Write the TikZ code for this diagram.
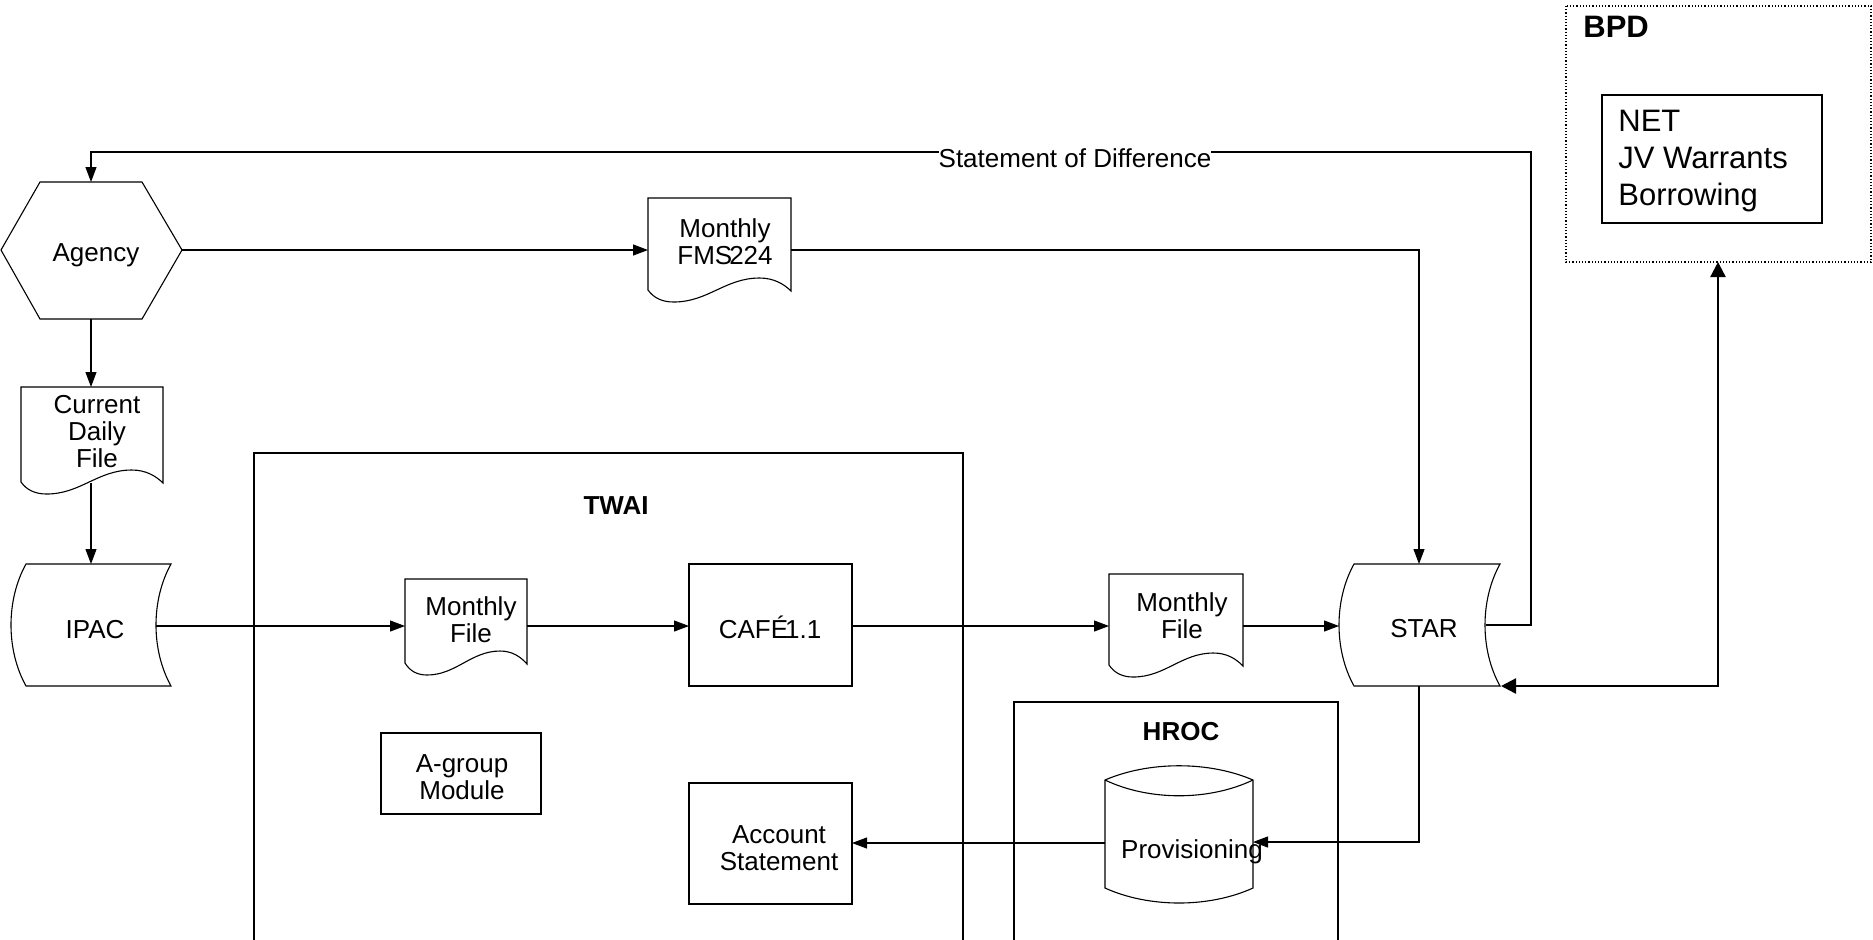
\documentclass[tikz,border=0pt]{standalone}
\usepackage{fontspec}
\setmainfont{Liberation Sans}
\usetikzlibrary{arrows.meta}
\newcommand{\docoutline}[4]{%
  \pgfmathsetmacro{\dW}{#2-#1}%
  \draw[outline] (#1,#4) -- (#1,#3) -- (#2,#3) -- (#2,#4+1)
    .. controls ({#1+0.95*\dW},{#4-6}) and ({#1+0.88*\dW},{#4-12}) .. ({#1+0.78*\dW},{#4-12})
    .. controls ({#1+0.54*\dW},{#4-12}) and ({#1+0.42*\dW},{#4+12}) .. ({#1+0.18*\dW},{#4+12})
    .. controls ({#1+0.1*\dW},{#4+12}) and ({#1+0.04*\dW},{#4+8}) .. (#1,#4) -- cycle;}
\begin{document}
\begin{tikzpicture}[x=0.5pt,y=-0.5pt,
  lbl/.style={font=\fontsize{13}{13.6}\selectfont, inner sep=0pt, align=center},
  ttl/.style={font=\fontsize{13}{13.6}\selectfont\bfseries, inner sep=0pt},
  big/.style={font=\fontsize{15.5}{18.5}\selectfont, inner sep=0pt},
  outline/.style={draw=black, line width=0.55pt},
  thickbox/.style={draw=black, line width=1pt},
  conn/.style={draw=black, line width=0.55pt},
  arr/.style={conn, -{Triangle[length=7.5pt,width=5.5pt]}},
  bigarr/.style={draw=black, line width=1.2pt,
    {Triangle[length=7.5pt,width=7.5pt]}-{Triangle[length=7.5pt,width=7.5pt]}},
]
\useasboundingbox (0,0) rectangle (1873,939);

% ---------- containers ----------
\draw[outline] (254,945) -- (254,453) -- (963,453) -- (963,945);
\node[ttl, anchor=base] (twai) at (616,514) {TWAI};
\draw[outline] (1014,945) -- (1014,702) -- (1338,702) -- (1338,945);
\node[ttl, anchor=base] (hroc) at (1181,740) {HROC};

% BPD
\draw[black, line width=0.6pt, dash pattern=on 0.6pt off 1pt] (1566,6) rectangle (1871,262);
\node[big, font=\fontsize{15.5}{18.5}\selectfont\bfseries, anchor=base west] (bpdlbl) at (1583,37) {BPD};
\draw[thickbox] (1602,95) rectangle (1822,223);
\node[big, align=left, anchor=west] (bpdlist) at (1618,161) {NET\\JV Warrants\\Borrowing};
\coordinate (bpdS) at (1718,262);

% ---------- Agency ----------
\draw[outline] (1,250) -- (40,182) -- (142,182) -- (182,250) -- (142,319) -- (40,319) -- cycle;
\node[lbl, anchor=base] (agency) at (96,261) {Agency};
\coordinate (agT) at (91,182);
\coordinate (agB) at (91,319);
\coordinate (agE) at (182,250);

% ---------- Monthly FMS224 ----------
\docoutline{648}{791}{198}{290}
\node[lbl] (fms) at (725,242) {Monthly\\FMS\kern-1.5pt 224};
\coordinate (fmsW) at (648,250);
\coordinate (fmsE) at (791,250);

% ---------- Current Daily File ----------
\docoutline{21}{163}{387}{482}
\node[lbl] (cdf) at (97,431.5) {Current\\Daily\\File};
\coordinate (cdfT) at (91,387);
\coordinate (cdfB) at (91,483);

% ---------- IPAC ----------
\draw[outline] (26,564) -- (171,564) .. controls (151,600) and (151,650) .. (171,686)
  -- (26,686) .. controls (6,650) and (6,600) .. (26,564) -- cycle;
\node[lbl, anchor=base] (ipac) at (95,638) {IPAC};
\coordinate (ipT) at (91,564);
\coordinate (ipE) at (156,626);

% ---------- Monthly File (TWAI) ----------
\docoutline{405}{527}{579}{663}
\node[lbl] (mf1) at (471,620) {Monthly\\File};
\coordinate (mf1W) at (405,626);
\coordinate (mf1E) at (527,626);

% ---------- CAFE 1.1 ----------
\draw[outline] (689,564) rectangle (852,686);
\node[lbl, anchor=base] (cafe) at (770,638) {CAFÉ\kern-1.5pt 1.1};
\coordinate (cafeW) at (689,626);
\coordinate (cafeE) at (852,626);

% ---------- Monthly File 2 ----------
\docoutline{1109}{1243}{574}{665}
\node[lbl] (mf2) at (1182,616) {Monthly\\File};
\coordinate (mf2W) at (1109,626);
\coordinate (mf2E) at (1243,626);

% ---------- STAR ----------
\draw[outline] (1354,564) -- (1500,564) .. controls (1480,600) and (1480,650) .. (1500,686)
  -- (1354,686) .. controls (1334,650) and (1334,600) .. (1354,564) -- cycle;
\node[lbl, anchor=base] (star) at (1424,637) {STAR};
\coordinate (stT) at (1419,564);
\coordinate (stL) at (1339,626);
\coordinate (stR) at (1486,625);
\coordinate (stB) at (1419,686);
\coordinate (stBR) at (1501,686);
\coordinate (fbTop) at (1531,152);

% ---------- A-group Module ----------
\draw[thickbox] (381,733) rectangle (541,814);
\node[lbl] (agroup) at (462,777) {A-group\\Module};

% ---------- Account Statement ----------
\draw[outline] (689,783) rectangle (852,904);
\node[lbl] (acct) at (779,848) {Account\\Statement};
\coordinate (acctE) at (852,843);

% ---------- Provisioning ----------
\draw[outline] (1105,780) -- (1105,888) .. controls (1149,908) and (1209,908) .. (1253,888)
  -- (1253,780) .. controls (1209,761) and (1149,761) .. (1105,780) -- cycle;
\draw[outline] (1105,780) .. controls (1149,801) and (1209,801) .. (1253,780);
\node[lbl, anchor=base] (prov) at (1192,858) {Provisioning};
\coordinate (provE) at (1253,842);
\coordinate (provW) at (1105,843);

% ---------- connectors ----------
\draw[arr] (stR) -| (fbTop) -| (agT);
\node[lbl, anchor=base, fill=white] (sod) at (1075,167) {Statement of Difference};
\draw[arr] (agE) -- (fmsW);
\draw[arr] (fmsE) -| (stT);
\draw[arr] (agB) -- (cdfT);
\draw[arr] (cdfB) -- (ipT);
\draw[arr] (ipE) -- (mf1W);
\draw[arr] (mf1E) -- (cafeW);
\draw[arr] (cafeE) -- (mf2W);
\draw[arr] (mf2E) -- (stL);
\draw[arr] (stB) |- (provE);
\draw[arr] (provW) -- (acctE);
\draw[bigarr] (stBR) -| (bpdS);
\end{tikzpicture}
\end{document}
